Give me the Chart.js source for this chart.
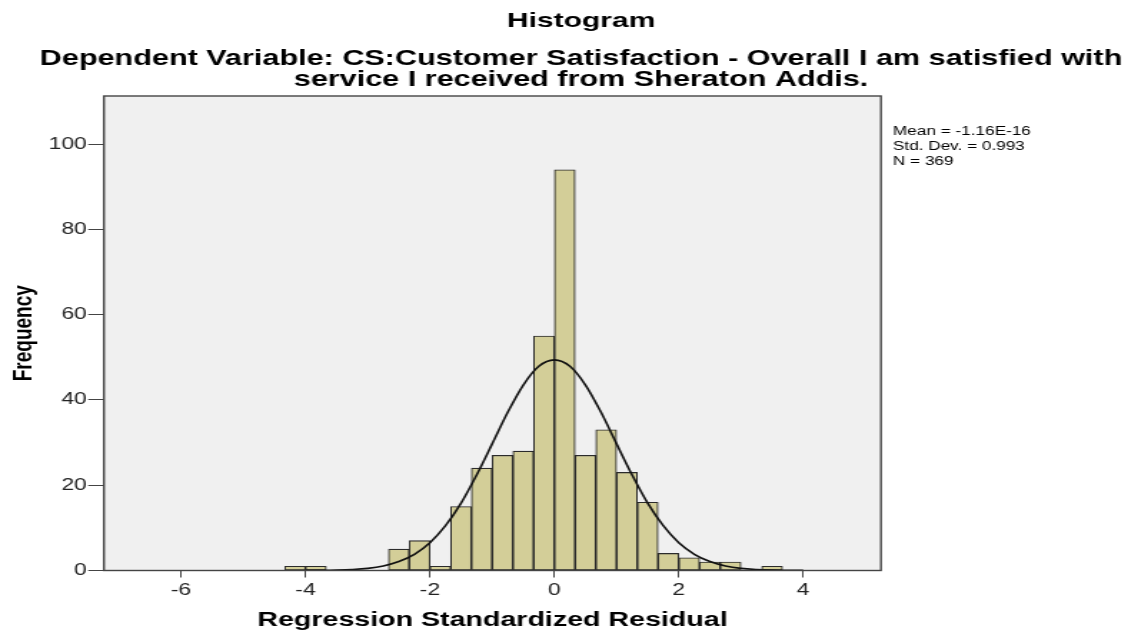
<!DOCTYPE html>
<html>
<head>
<meta charset="utf-8">
<script src="https://cdn.jsdelivr.net/npm/chart.js@4.4.1/dist/chart.umd.min.js"></script>
<style>
  html, body { margin: 0; padding: 0; background: #fff; overflow: hidden; }
  /* SPSS export is stretched sideways, so draw narrow and stretch the same way */
  #wrap { width: 789px; height: 633px; transform: scaleX(1.4297); transform-origin: 0 0; }
</style>
</head>
<body>
<div id="wrap"><canvas id="chart"></canvas></div>
<script>
// ====== data ======
const binCenters = [-4.167, -3.833, -3.5, -3.167, -2.833, -2.5, -2.167, -1.833, -1.5, -1.167,
                    -0.833, -0.5, -0.167, 0.167, 0.5, 0.833, 1.167, 1.5, 1.833, 2.167,
                    2.5, 2.833, 3.167, 3.5];
const counts = [1, 1, 0, 0, 0, 5, 7, 1, 15, 24,
                27, 28, 55, 94, 27, 33, 23, 16, 4, 3,
                2, 2, 0, 1];

// normal curve
const curveX = [-4, -3.75, -3.5, -3.25, -3, -2.75, -2.5, -2.25, -2, -1.75, -1.5, -1.25, -1, -0.75, -0.5, -0.25,
                0, 0.25, 0.5, 0.75, 1, 1.25, 1.5, 1.75, 2, 2.25, 2.5, 2.75, 3, 3.25, 3.5, 3.75, 4];
const curveY = [0.02, 0.04, 0.1, 0.23, 0.5, 1.07, 2.1, 3.8, 6.5, 10.5, 15.8, 22.4, 29.7, 37.1, 43.5, 47.9,
                49.4, 47.9, 43.5, 37.1, 29.7, 22.4, 15.8, 10.5, 6.5, 3.8, 2.1, 1.07, 0.5, 0.23, 0.1, 0.04, 0.02];

const xTicks = [-6, -4, -2, 0, 2, 4];
const yTicks = [0, 20, 40, 60, 80, 100];

const titleText = 'Histogram';
const subtitleLines = [
    'Dependent Variable: CS:Customer Satisfaction - Overall I am satisfied with',
    'service I received from Sheraton Addis.'
];
const statsLines = ['Mean = -1.16E-16', 'Std. Dev. = 0.993', 'N = 369'];

const FONT = '"Liberation Sans", Arial, sans-serif';

// ====== plot background, frame and texts ======
const frameAndText = {
    id: 'frameAndText',
    beforeDatasetsDraw(chart) {
        const { ctx, chartArea: a } = chart;
        ctx.save();
        ctx.fillStyle = '#f0f0f0';
        ctx.fillRect(a.left, a.top, a.right - a.left, a.bottom - a.top);
        ctx.restore();
    },
    afterDraw(chart) {
        const { ctx, chartArea: a } = chart;
        ctx.save();
        ctx.strokeStyle = '#444';
        ctx.lineWidth = 1.4;
        ctx.strokeRect(a.left, a.top, a.right - a.left, a.bottom - a.top);

        ctx.fillStyle = '#000';
        ctx.textAlign = 'center';
        ctx.textBaseline = 'alphabetic';
        ctx.font = 'bold 21px ' + FONT;
        ctx.fillText(titleText, 406.4, 26.7);
        ctx.font = 'bold 21.4px ' + FONT;
        ctx.fillText(subtitleLines[0], 406.4, 65);
        ctx.fillText(subtitleLines[1], 406.4, 86);

        ctx.textAlign = 'left';
        ctx.font = '12px ' + FONT;
        statsLines.forEach((s, i) => ctx.fillText(s, 624.6, 135 + i * 15));
        ctx.restore();
    }
};

new Chart(document.getElementById('chart'), {
    data: {
        datasets: [
            {
                type: 'line',
                order: 1,
                data: curveX.map((x, i) => ({ x: x, y: curveY[i] })),
                borderColor: '#111',
                borderWidth: 1.6,
                pointRadius: 0,
                cubicInterpolationMode: 'monotone',
                fill: false
            },
            {
                type: 'bar',
                order: 2,
                data: binCenters.map((x, i) => ({ x: x, y: counts[i] })),
                backgroundColor: '#d3ce98',
                borderColor: '#2b2b2b',
                borderWidth: 1.1,
                borderSkipped: false,
                categoryPercentage: 1,
                barPercentage: 1
            }
        ]
    },
    options: {
        responsive: true,
        maintainAspectRatio: false,
        animation: false,
        layout: { padding: { top: 96, right: 172.8, bottom: 0, left: 0 } },
        plugins: {
            legend: { display: false },
            tooltip: { enabled: false }
        },
        scales: {
            x: {
                type: 'linear',
                offset: false,
                min: -7.24,
                max: 5.25,
                afterFit: (s) => { s.height = 62.5; },
                afterBuildTicks: (s) => { s.ticks = xTicks.map(v => ({ value: v })); },
                grid: { offset: false, drawOnChartArea: false, drawTicks: true, tickLength: 7, tickColor: '#444', tickWidth: 1 },
                border: { display: false },
                ticks: { color: '#222', padding: 3, font: { family: FONT, size: 16 } },
                title: {
                    display: true,
                    text: 'Regression Standardized Residual',
                    color: '#000',
                    padding: { top: 0, bottom: 1 },
                    font: { family: FONT, size: 20, weight: 'bold' }
                }
            },
            y: {
                min: 0,
                max: 111.3,
                afterFit: (s) => { s.width = 72.7; },
                afterBuildTicks: (s) => { s.ticks = yTicks.map(v => ({ value: v })); },
                grid: { drawOnChartArea: false, drawTicks: true, tickLength: 11, tickColor: '#444', tickWidth: 1 },
                border: { display: false },
                ticks: { color: '#222', padding: 1, font: { family: FONT, size: 16 } },
                title: {
                    display: true,
                    text: 'Frequency',
                    color: '#000',
                    padding: { top: 5, bottom: 0 },
                    font: { family: FONT, size: 19, weight: 'bold' }
                }
            }
        }
    },
    plugins: [frameAndText]
});
</script>
</body>
</html>
